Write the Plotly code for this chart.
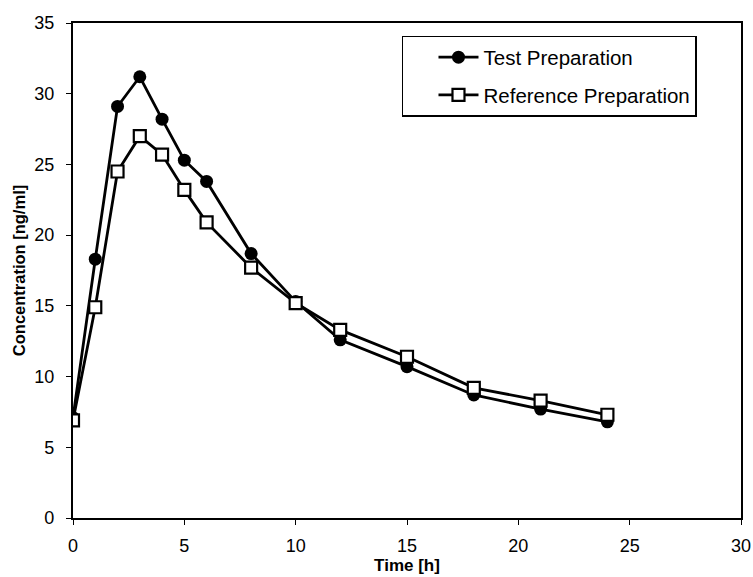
import plotly.graph_objects as go

time_h = [0, 1, 2, 3, 4, 5, 6, 8, 10, 12, 15, 18, 21, 24]
test_prep = [7.1, 18.3, 29.1, 31.2, 28.2, 25.3, 23.8, 18.7, 15.3, 12.6, 10.7, 8.7, 7.7, 6.8]
ref_prep = [6.9, 14.9, 24.5, 27.0, 25.7, 23.2, 20.9, 17.7, 15.2, 13.3, 11.4, 9.2, 8.3, 7.3]

FONT = "Liberation Sans, Arial"

fig = go.Figure()
fig.add_trace(go.Scatter(
    x=time_h, y=test_prep, mode="lines+markers", name="Test Preparation",
    legendgroup="a",
    line=dict(color="black", width=2.8),
    marker=dict(symbol="circle", size=13, color="black"),
))
fig.add_trace(go.Scatter(
    x=time_h, y=ref_prep, mode="lines+markers", name="Reference Preparation",
    legendgroup="b",
    line=dict(color="black", width=2.8),
    marker=dict(symbol="square", size=12, color="white", line=dict(color="black", width=2.2)),
))

axis_common = dict(
    showline=True, linecolor="black", linewidth=2.2, mirror=True,
    ticks="outside", ticklen=5, tickwidth=1.2, tickcolor="black",
    showgrid=False, zeroline=False,
    tickfont=dict(family=FONT, size=18, color="black"),
)
fig.update_xaxes(range=[0, 30], dtick=5, ticklabelstandoff=5,
                 title=dict(text="<b>Time [h]</b>", standoff=3,
                            font=dict(family=FONT, size=17, color="black")),
                 **axis_common)
fig.update_yaxes(range=[0, 35], dtick=5, ticklabelstandoff=8,
                 title=dict(text="<b>Concentration [ng/ml]</b>", standoff=4,
                            font=dict(family=FONT, size=16.5, color="black")),
                 **axis_common)

fig.update_layout(
    width=753, height=577,
    margin=dict(l=73, r=12, t=23, b=59, autoexpand=False),
    plot_bgcolor="white", paper_bgcolor="white",
    font=dict(family=FONT, color="black"),
    legend=dict(x=0.4925, y=0.974, xanchor="left", yanchor="top",
                bordercolor="black", borderwidth=1.5, bgcolor="white",
                font=dict(family=FONT, size=20.5, color="black"),
                tracegroupgap=8, indentation=30, itemwidth=40,
                entrywidth=240, entrywidthmode="pixels"),
    showlegend=True,
)

fig.write_html("out.html", config={"displayModeBar": False},
               post_script="document.body.style.margin='0px';")
